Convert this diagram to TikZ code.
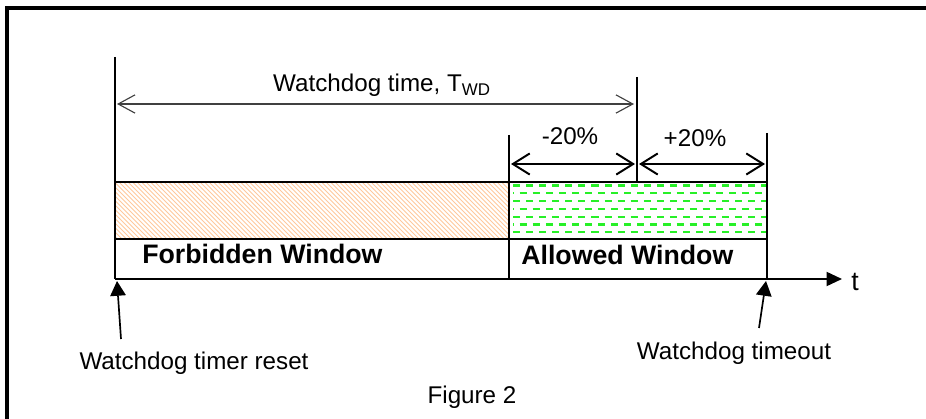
\documentclass[tikz,border=0pt]{standalone}
\usepackage{fontspec}
\setmainfont{Liberation Sans}
\usetikzlibrary{arrows.meta, positioning, calc}

\definecolor{hatchorange}{RGB}{255,200,156}
\definecolor{okgreen}{RGB}{40,240,40}

\begin{document}
\begin{tikzpicture}[
    x=0.025cm, y=-0.025cm,
    every node/.style={font=\fontsize{17.2}{20}\selectfont, inner sep=0pt},
    frame/.style={line width=2.2pt},
    box/.style={line width=1.3pt},
    guide/.style={line width=1pt},
    span/.style={{Straight Barb[length=12pt,width=15pt]}-{Straight Barb[length=12pt,width=15pt]}, line width=1.4pt},
    total/.style={{Straight Barb[length=12pt,width=13pt]}-{Straight Barb[length=12pt,width=13pt]}, line width=0.8pt, black!75},
    hatch/.style={line width=0.7pt, hatchorange},
    okdash/.style={line width=1.5pt, okgreen, dash pattern=on 5pt off 4.3pt},
    winlbl/.style={font=\fontsize{19}{22}\selectfont\bfseries, anchor=base west},
    lbl/.style={anchor=base},
    pointer/.style={-{Triangle[length=10.5pt,width=11pt]}, line width=1.2pt},
]
\useasboundingbox (0,0) rectangle (926,419);

% Page frame (only top and left edges are visible)
\draw[frame] (926,8) -- (7,8) -- (7,419);

% Time instants on the t axis
\coordinate (reset)   at (115,279);
\coordinate (open)    at (509,279);
\coordinate (timeout) at (767,279);
\coordinate (tend)    at (842,279);
% Top ends of the guide lines
\coordinate (resettop)   at (115,57);
\coordinate (opentop)    at (509,135);
\coordinate (nominaltop) at (637,77);
\coordinate (nominal)    at (637,182);
\coordinate (timeouttop) at (767,133);

% Forbidden window: orange hatch
\begin{scope}
  \clip (115,182) rectangle (509,239);
  \foreach \x in {56,60.5,...,512} \draw[hatch] (\x,182) -- ++(57,57);
\end{scope}

% Allowed window: green dashes, every other row shifted
\begin{scope}
  \clip (509,182) rectangle (767,239);
  \foreach \r [evaluate=\r as \ph using {mod(\r,2)*4.6}, evaluate=\r as \yy using {185.5+7.8*\r}] in {0,...,6}
    \draw[okdash, dash phase=\ph pt] (513,\yy) -- (767,\yy);
\end{scope}

% Window boxes
\draw[box] (115,182) rectangle (509,239);
\draw[box] (509,182) rectangle (767,239);
\draw[box] (open) -- (509,239);
\draw[box] (timeout) -- (767,239);

% Guide lines
\draw[guide] (resettop) -- (reset);
\draw[guide] (opentop) -- (509,182);
\draw[guide] (nominaltop) -- (nominal);
\draw[guide] (timeouttop) -- (767,182);

% Time axis
\draw[box, -{Triangle[length=11pt,width=10pt]}] (reset) -- (tend);
\node[anchor=base west, font=\fontsize{19}{22}\selectfont] (tlbl) at (851,290) {t};

% Dimension arrows
\draw[total] (117,104) -- (634,104);
\node[lbl] (twd) at (382,92) {Watchdog time, T\textsubscript{WD}};
\draw[span] (511,164) -- (635,164);
\draw[span] (639,164) -- (765,164);
\node[lbl] (minus) at (570,145) {-20\%};
\node[lbl] (plus) at (695,147) {+20\%};

% Window names
\node[winlbl] (forbidden) at (142,264) {Forbidden Window};
\node[winlbl] (allowed) at (521,265) {Allowed Window};

% Event pointers
\coordinate (resettail) at (121,339);
\coordinate (timeouttail) at (759,328);
\draw[pointer] (resettail) -- (117,281);
\draw[pointer] (timeouttail) -- (766,281);
\node[lbl] (resetlbl) at (194,369) {Watchdog timer reset};
\node[lbl] (timeoutlbl) at (734,359) {Watchdog timeout};

\node[lbl] (caption) at (472,403) {Figure 2};
\end{tikzpicture}
\end{document}
